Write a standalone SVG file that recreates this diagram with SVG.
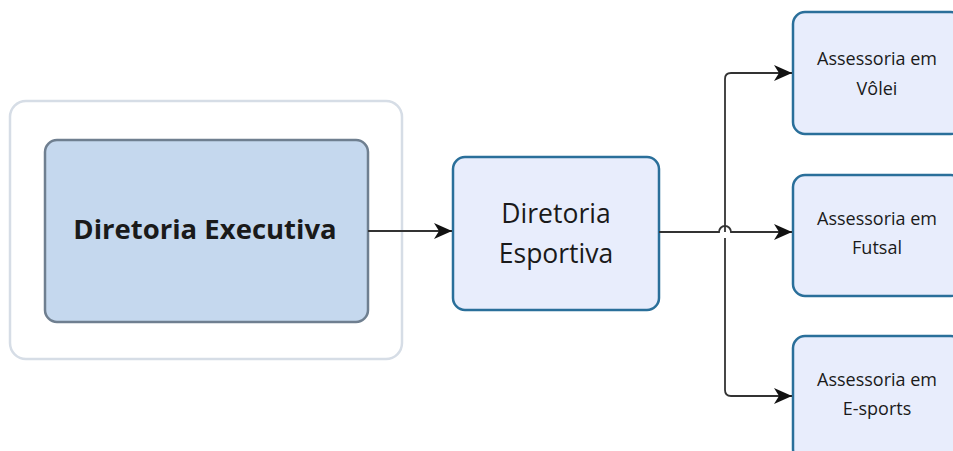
<svg xmlns="http://www.w3.org/2000/svg" width="953" height="451" viewBox="0 0 953 451">
<defs>
<style>
.t{font-family:"Open Sans","Noto Sans","DejaVu Sans",sans-serif;fill:#1a1a1a;text-anchor:middle}
.s{font-size:18px}
.ass{fill:#e8edfc;stroke:#2a6f9a;stroke-width:2.5}
.c{fill:none;stroke:#333;stroke-width:1.8}
</style>
<marker id="ah" viewBox="0 0 18 16" refX="18" refY="8" markerWidth="18" markerHeight="16" markerUnits="userSpaceOnUse" orient="auto">
<path d="M0,0 L18,8 L0,16 L5,8 Z" fill="#111"/>
</marker>
</defs>
<rect width="953" height="451" fill="#fff"/>
<g id="container">
<rect x="10" y="101" width="392" height="258" rx="16" fill="#fff" stroke="#d6dde6" stroke-width="2.5"/>
</g>
<g id="executiva">
<rect x="45" y="140" width="323" height="182" rx="12" fill="#c5d8ee" stroke="#6f7f90" stroke-width="2.5"/>
<text class="t" x="205" y="239" font-size="27.5" font-weight="bold">Diretoria Executiva</text>
</g>
<g id="esportiva">
<rect class="ass" x="453" y="157" width="206" height="153" rx="12"/>
<text class="t" x="556" y="223" font-size="26.5">Diretoria</text>
<text class="t" x="556" y="263" font-size="26.5">Esportiva</text>
</g>
<g id="volei">
<rect class="ass" x="793" y="12" width="170" height="122" rx="12"/>
<text class="t s" x="877" y="65">Assessoria em</text>
<text class="t s" x="877" y="95">Vôlei</text>
</g>
<g id="futsal">
<rect class="ass" x="793" y="175" width="170" height="121" rx="12"/>
<text class="t s" x="877" y="225">Assessoria em</text>
<text class="t s" x="877" y="254">Futsal</text>
</g>
<g id="esports">
<rect class="ass" x="793" y="336" width="170" height="125" rx="12"/>
<text class="t s" x="877" y="386">Assessoria em</text>
<text class="t s" x="877" y="415">E-sports</text>
</g>
<g id="connectors">
<path class="c" d="M368,231 L452,231" marker-end="url(#ah)"/>
<path class="c" d="M659,232 L719,232 A6,6 0 0 1 731,232 L792,232" marker-end="url(#ah)"/>
<path class="c" d="M725,232 L725,79 Q725,73 731,73 L792,73" marker-end="url(#ah)"/>
<path class="c" d="M725,238 L725,390 Q725,396 731,396 L792,396" marker-end="url(#ah)"/>
</g>
</svg>
